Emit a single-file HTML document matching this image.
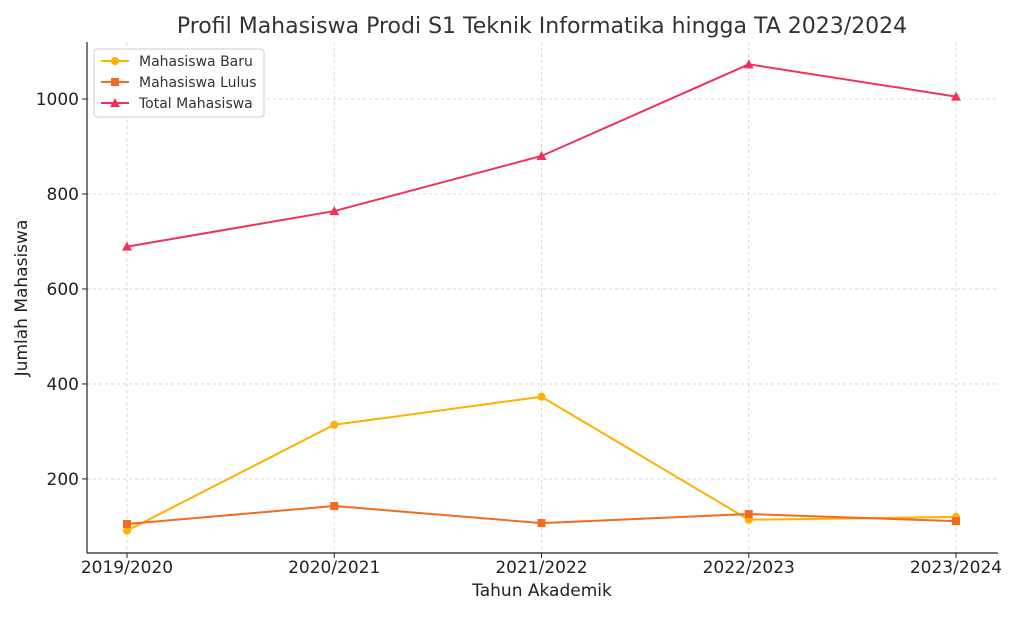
<!DOCTYPE html>
<html><head><meta charset="utf-8"><style>
body{margin:0;background:#fff;font-family:"Liberation Sans","DejaVu Sans",sans-serif;}
svg text{font-family:"DejaVu Sans","Liberation Sans",sans-serif;}
</style></head><body>
<svg id="chart" width="1024" height="614" viewBox="0 0 1024 614">
<text x="542" y="33" text-anchor="middle" font-size="22" fill="#333">Profil Mahasiswa Prodi S1 Teknik Informatika hingga TA 2023/2024</text>
<g id="grid"></g><g id="axes"></g><g id="series"></g>
<text x="542" y="596" text-anchor="middle" font-size="17" fill="#222">Tahun Akademik</text>
<text transform="translate(27,298) rotate(-90)" text-anchor="middle" font-size="17" fill="#222">Jumlah Mahasiswa</text>
<g>
<rect x="94" y="49" width="170" height="68" rx="3" fill="#fff" stroke="#ccc"/>
<g><line x1="101" y1="61" x2="129" y2="61" stroke="#FFB000" stroke-width="2"/><circle cx="115" cy="61" r="4" fill="#FFB000"/><text x="139" y="66" font-size="14" fill="#333">Mahasiswa Baru</text></g>
<g><line x1="101" y1="82" x2="129" y2="82" stroke="#F26B21" stroke-width="2"/><rect x="111" y="78" width="8" height="8" fill="#F26B21"/><text x="139" y="87" font-size="14" fill="#333">Mahasiswa Lulus</text></g>
<g><line x1="101" y1="103" x2="129" y2="103" stroke="#F0325A" stroke-width="2"/><path d="M115 98 L120 107 L110 107Z" fill="#F0325A"/><text x="139" y="108" font-size="14" fill="#333">Total Mahasiswa</text></g>
</g>
</svg>
<script>
const categories=["2019/2020","2020/2021","2021/2022","2022/2023","2023/2024"];
const baru=[91,314,373,114,120];
const lulus=[105,143,107,126,111];
const total=[689,764,880,1073,1005];
const yTicks=[200,400,600,800,1000];
const NS="http://www.w3.org/2000/svg";
const L=87,R=998,T=42,B=553,yMin=44,yMax=1120;
const x=i=>127+i*(956-127)/(categories.length-1);
const y=v=>B-(v-yMin)/(yMax-yMin)*(B-T);
function mk(tag,a,p){const e=document.createElementNS(NS,tag);for(const k in a)e.setAttribute(k,a[k]);p.appendChild(e);return e;}
const grid=document.getElementById('grid'),axes=document.getElementById('axes'),ser=document.getElementById('series');
categories.forEach((c,i)=>{
 const g=mk('line',{x1:x(i),x2:x(i),y1:T,y2:B,stroke:'#d0d0d0','stroke-width':0.8,'stroke-dasharray':'3,3'},grid);
 
 
 mk('line',{x1:x(i),x2:x(i),y1:B,y2:B+5,stroke:'#222'},axes);
 const t=mk('text',{x:x(i),y:B+20,'text-anchor':'middle','font-size':17,fill:'#222'},axes);t.textContent=c;
 
 
});
yTicks.forEach(v=>{
 const g=mk('line',{x1:L,x2:R,y1:y(v),y2:y(v),stroke:'#d0d0d0','stroke-width':0.8,'stroke-dasharray':'3,3'},grid);
 
 
 mk('line',{x1:L-5,x2:L,y1:y(v),y2:y(v),stroke:'#222'},axes);
 const t=mk('text',{x:L-8,y:y(v)+6,'text-anchor':'end','font-size':17,fill:'#222'},axes);t.textContent=v;
 
 
});
mk('line',{x1:L,x2:L,y1:T,y2:B,stroke:'#222','stroke-width':1.2},axes);
mk('line',{x1:L,x2:R,y1:B,y2:B,stroke:'#222','stroke-width':1.2},axes);
function series(vals,color,marker,name){
 const pl=mk('polyline',{points:vals.map((v,i)=>x(i)+','+y(v)).join(' '),fill:'none',stroke:color,'stroke-width':2},ser);
 
 
 vals.forEach((v,i)=>{
  let m;const cx=x(i),cy=y(v);
  if(marker==='c')m=mk('circle',{cx:cx,cy:cy,r:4,fill:color},ser);
  else if(marker==='s')m=mk('rect',{x:cx-4,y:cy-4,width:8,height:8,fill:color},ser);
  else m=mk('path',{d:`M${cx} ${cy-5} L${cx+5} ${cy+4} L${cx-5} ${cy+4}Z`,fill:color},ser);
  
  
 });
}
series(baru,'#FFB000','c','baru');
series(lulus,'#F26B21','s','lulus');
series(total,'#F0325A','t','total');
</script>
</body></html>
